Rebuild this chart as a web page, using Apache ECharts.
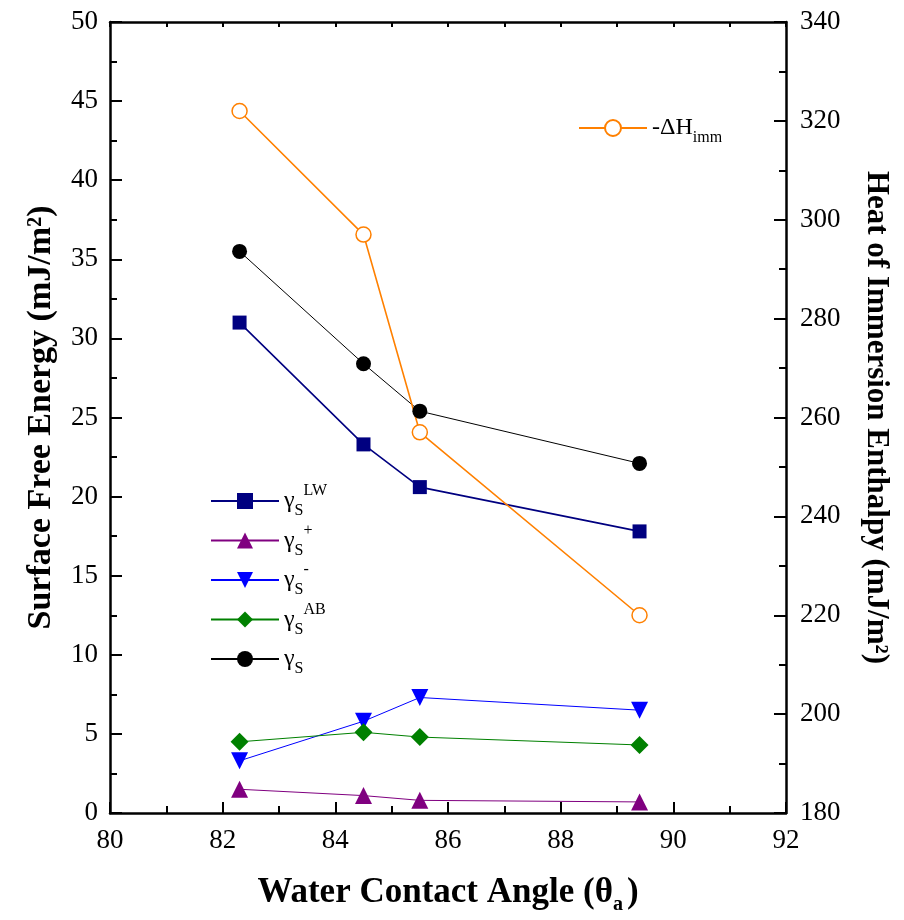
<!DOCTYPE html>
<html>
<head>
<meta charset="utf-8">
<script src="https://cdn.jsdelivr.net/npm/echarts@6/dist/echarts.min.js"></script>
<style>html,body{margin:0;padding:0;background:#fff;}#c{width:904px;height:920px;}</style>
</head>
<body>
<div id="c"></div>
<script>
const contactAngle = [82.3, 84.5, 85.5, 89.4];
const gammaLW = [31.0, 23.3, 20.6, 17.8];
const gammaPlus = [1.5, 1.1, 0.8, 0.7];
const gammaMinus = [3.3, 5.8, 7.3, 6.5];
const gammaAB = [4.5, 5.1, 4.8, 4.3];
const gammaS = [35.5, 28.4, 25.4, 22.1];
const heatImm = [322, 297, 257, 220];

const pair = (xs, ys) => xs.map((x, i) => [x, ys[i]]);
const FONT = '"Liberation Serif", "Times New Roman", serif';

const richLegend = {
  g: { fontFamily: FONT, fontSize: 24, color: '#000', lineHeight: 36, verticalAlign: 'middle' },
  sub: { fontFamily: FONT, fontSize: 16, color: '#000', verticalAlign: 'bottom', lineHeight: 36 },
  sup: { fontFamily: FONT, fontSize: 16, color: '#000', verticalAlign: 'top', lineHeight: 36 },
  big: { fontFamily: FONT, fontSize: 24, color: '#000', lineHeight: 36, verticalAlign: 'middle' }
};
const legendNames = {
  'γS_LW': '{g|γ}{sub|S}{sup|LW}',
  'γS_plus': '{g|γ}{sub|S}{sup|+}',
  'γS_minus': '{g|γ}{sub|S}{sup|-}',
  'γS_AB': '{g|γ}{sub|S}{sup|AB}',
  'γS': '{g|γ}{sub|S}{sup| }',
  '-ΔH_imm': '{big|-ΔH}{sub|imm}'
};

function mkSeries(name, data, color, symbol, size, lw, yIdx, extra) {
  return Object.assign({
    name: name, type: 'line', xAxisIndex: 0, yAxisIndex: yIdx,
    data: data, symbol: symbol, symbolSize: size,
    lineStyle: { color: color, width: lw },
    itemStyle: { color: color },
    emphasis: { disabled: true },
    animation: false, z: 3
  }, extra || {});
}

const chart = echarts.init(document.getElementById('c'), null, { renderer: 'canvas' });
const axisLineStyle = { color: '#000', width: 2.5 };
chart.setOption({
  backgroundColor: '#fff',
  animation: false,
  grid: { left: 110, top: 22, width: 676, height: 791 },
  legend: [
    {
      data: ['γS_LW', 'γS_plus', 'γS_minus', 'γS_AB', 'γS'],
      orient: 'vertical', left: 205, top: 478,
      itemWidth: 68, itemHeight: 20, itemGap: 3.5,
      formatter: n => legendNames[n],
      textStyle: { rich: richLegend }, selectedMode: false
    },
    {
      data: ['-ΔH_imm'],
      orient: 'vertical', left: 573, top: 111,
      itemWidth: 68, itemHeight: 20, itemGap: 6,
      formatter: n => legendNames[n],
      textStyle: { rich: richLegend }, selectedMode: false
    }
  ],
  xAxis: [
    {
      type: 'value', min: 80, max: 92, interval: 2, position: 'bottom',
      axisLine: { lineStyle: axisLineStyle },
      axisTick: { inside: true, length: 11, lineStyle: { width: 2, color: '#000' } },
      minorTick: { show: true, splitNumber: 2, length: 7, lineStyle: { width: 2, color: '#000' } },
      splitLine: { show: false },
      axisLabel: { fontFamily: FONT, fontSize: 27, color: '#000', margin: 14 },
      name: '{t|Water Contact Angle (θ}{s|a}{t|)}',
      nameLocation: 'middle', nameGap: 58,
      nameTextStyle: { rich: {
        t: { fontFamily: FONT, fontSize: 35, fontWeight: 'bold', color: '#000', lineHeight: 44, verticalAlign: 'middle' },
        s: { fontFamily: FONT, fontSize: 20, fontWeight: 'bold', color: '#000', lineHeight: 44, verticalAlign: 'bottom', padding: [0, 4, 0, 0] }
      } }
    },
    {
      type: 'value', min: 80, max: 92, interval: 1, position: 'top',
      axisLine: { lineStyle: axisLineStyle },
      axisTick: { inside: true, length: 5, lineStyle: { width: 2, color: '#000' } },
      splitLine: { show: false },
      axisLabel: { show: false }
    }
  ],
  yAxis: [
    {
      type: 'value', min: 0, max: 50, interval: 5, position: 'left',
      axisLine: { show: true, lineStyle: axisLineStyle },
      axisTick: { show: true, inside: true, length: 12, lineStyle: { width: 2, color: '#000' } },
      minorTick: { show: true, splitNumber: 2, length: 7, lineStyle: { width: 2, color: '#000' } },
      splitLine: { show: false },
      axisLabel: { fontFamily: FONT, fontSize: 27, color: '#000', margin: 12 },
      name: 'Surface Free Energy (mJ/m²)',
      nameLocation: 'middle', nameGap: 52, nameRotate: 90,
      nameTextStyle: { fontFamily: FONT, fontSize: 34, fontWeight: 'bold', color: '#000' }
    },
    {
      type: 'value', min: 180, max: 340, interval: 20, position: 'right',
      axisLine: { show: true, lineStyle: axisLineStyle },
      axisTick: { show: true, inside: true, length: 12, lineStyle: { width: 2, color: '#000' } },
      minorTick: { show: true, splitNumber: 2, length: 7, lineStyle: { width: 2, color: '#000' } },
      splitLine: { show: false },
      axisLabel: { fontFamily: FONT, fontSize: 27, color: '#000', margin: 14 },
      name: 'Heat of Immersion Enthalpy (mJ/m²)',
      nameLocation: 'middle', nameGap: 75, nameRotate: -90,
      nameTextStyle: { fontFamily: FONT, fontSize: 31, fontWeight: 'bold', color: '#000' }
    }
  ],
  series: [
    mkSeries('γS_LW', pair(contactAngle, gammaLW), '#000080', 'rect', 14, 1.6, 0),
    mkSeries('γS_plus', pair(contactAngle, gammaPlus), '#800080', 'triangle', 17, 1, 0),
    mkSeries('γS_minus', pair(contactAngle, gammaMinus), '#0000ff', 'triangle', 17, 1, 0, { symbolRotate: 180 }),
    mkSeries('γS_AB', pair(contactAngle, gammaAB), '#008000', 'diamond', 18, 1, 0),
    mkSeries('γS', pair(contactAngle, gammaS), '#000000', 'circle', 15, 1, 0),
    mkSeries('-ΔH_imm', pair(contactAngle, heatImm), '#ff8000', 'circle', 15, 1.6, 1,
      { itemStyle: { color: '#fff', borderColor: '#ff8000', borderWidth: 1.5 } })
  ]
});
</script>
</body>
</html>
